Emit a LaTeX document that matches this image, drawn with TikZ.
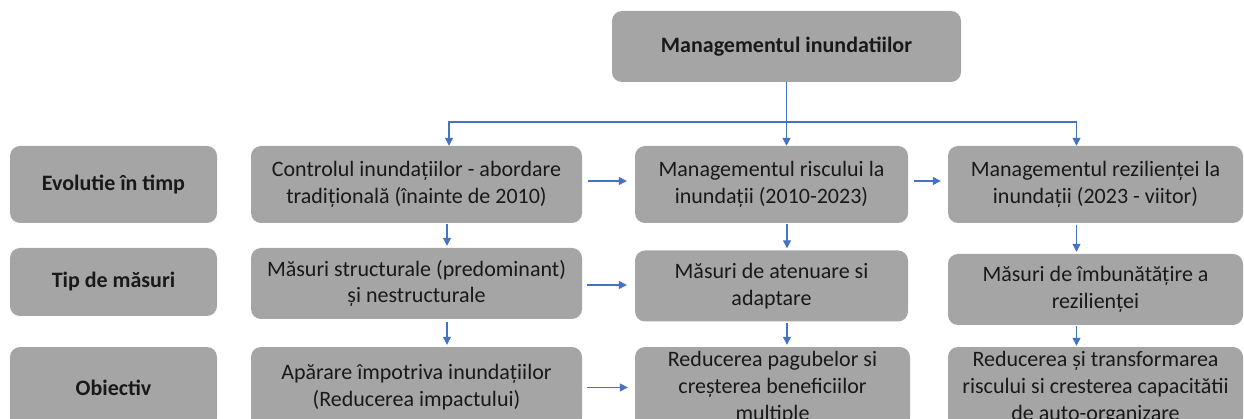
\documentclass[tikz,border=0pt]{standalone}
\usepackage{fontspec}
\setmainfont{Carlito}
\usepackage{tikz}
\usetikzlibrary{arrows.meta}
\definecolor{boxgray}{HTML}{A5A5A5}
\definecolor{flowblue}{HTML}{4472C4}

\begin{document}
\begin{tikzpicture}[x=1pt,y=-1pt]
                      \tikzstyle{box}=[rectangle,rounded corners=10pt,fill=boxgray,align=center,inner sep=0pt,text=black!90,font=\fontsize{22}{26.8}\selectfont]
                      \tikzstyle{link}=[draw=flowblue,line width=1.2pt,-{Triangle[length=8pt,width=8pt]}]
                      \clip (0,0) rectangle (1244,419);
                      \node[box,minimum width=349pt,minimum height=71pt] (top) at (786.5,46.5) {\textbf{Managementul inundatiilor}};
                      \node[box,minimum width=207pt,minimum height=77pt] (evol) at (113.5,184.5) {\textbf{Evolutie în timp}};
                      \node[box,minimum width=207pt,minimum height=68pt] (tip) at (113.5,282) {\textbf{Tip de măsuri}};
                      \node[box,minimum width=207pt,minimum height=81pt] (obj) at (113.5,387.5) {\textbf{Obiectiv}};
                      \node[box,minimum width=331pt,minimum height=77pt] (a1) at (416.5,184.5) {Controlul inundațiilor - abordare\\tradițională (înainte de 2010)};
                      \node[box,minimum width=331pt,minimum height=71pt] (a2) at (416.5,283.5) {Măsuri structurale (predominant)\\și nestructurale};
                      \node[box,minimum width=331pt,minimum height=81pt] (a3) at (416.5,387.5) {Apărare împotriva inundațiilor\\(Reducerea impactului)};
                      \node[box,minimum width=273pt,minimum height=77pt] (b1) at (771.5,184.5) {Managementul riscului la\\inundații (2010-2023)};
                      \node[box,minimum width=273pt,minimum height=71pt] (b2) at (771.5,286) {Măsuri de atenuare si\\adaptare};
                      \node[box,minimum width=275pt,minimum height=81pt] (b3) at (772.5,387.5) {Reducerea pagubelor si\\creșterea beneficiilor\\multiple};
                      \node[box,minimum width=295pt,minimum height=77pt] (c1) at (1095.5,184.5) {Managementul rezilienței la\\inundații (2023 - viitor)};
                      \node[box,minimum width=295pt,minimum height=71pt] (c2) at (1095.5,289.5) {Măsuri de îmbunătățire a\\rezilienței};
                      \node[box,minimum width=295pt,minimum height=81pt] (c3) at (1095.5,387.5) {Reducerea și transformarea\\riscului si cresterea capacitătii\\de auto-organizare};
                      \coordinate (bus) at (786.5,122);
                      \draw[link,-] (top.south) -- (bus);
                      \draw[link] (bus) -- (bus |- b1.north);
                      \draw[link] (bus) -| ([xshift=32.5pt]a1.north);
                      \draw[link] (bus) -| ([xshift=-19pt]c1.north);
                      \draw[link,shorten <=1pt,shorten >=2pt] ([xshift=30.5pt]a1.south) -- ([xshift=30.5pt]a2.north);
                      \draw[link,shorten <=3pt,shorten >=2pt] ([xshift=30.5pt]a2.south) -- ([xshift=30.5pt]a3.north);
                      \draw[link,shorten <=1pt,shorten >=2pt] ([xshift=15.5pt]b1.south) -- ([xshift=15.5pt]b1.south |- b2.north);
                      \draw[link,shorten <=1pt,shorten >=2pt] ([xshift=15.5pt]b2.south) -- ([xshift=15.5pt]b2.south |- b3.north);
                      \draw[link,shorten <=2pt,shorten >=2pt] ([xshift=-19pt]c1.south) -- ([xshift=-19pt]c2.north);
                      \draw[link,shorten <=1pt,shorten >=1pt] ([xshift=-19pt]c2.south) -- ([xshift=-19pt]c3.north);
                      \draw[link,shorten <=6pt,shorten >=8pt] ([yshift=3.5pt]a1.east) -- ([yshift=3.5pt]b1.west);
                      \draw[link,shorten <=6pt,shorten >=7pt] ([yshift=3.5pt]b1.east) -- ([yshift=3.5pt]c1.west);
                      \draw[link,shorten <=5pt,shorten >=8pt] ([yshift=-1.5pt]a2.east) -- ([yshift=-1.5pt]a2.east -| b2.west);
                      \draw[link,shorten <=5pt,shorten >=7pt] (a3.east) -- (b3.west);
\end{tikzpicture}
\end{document}
